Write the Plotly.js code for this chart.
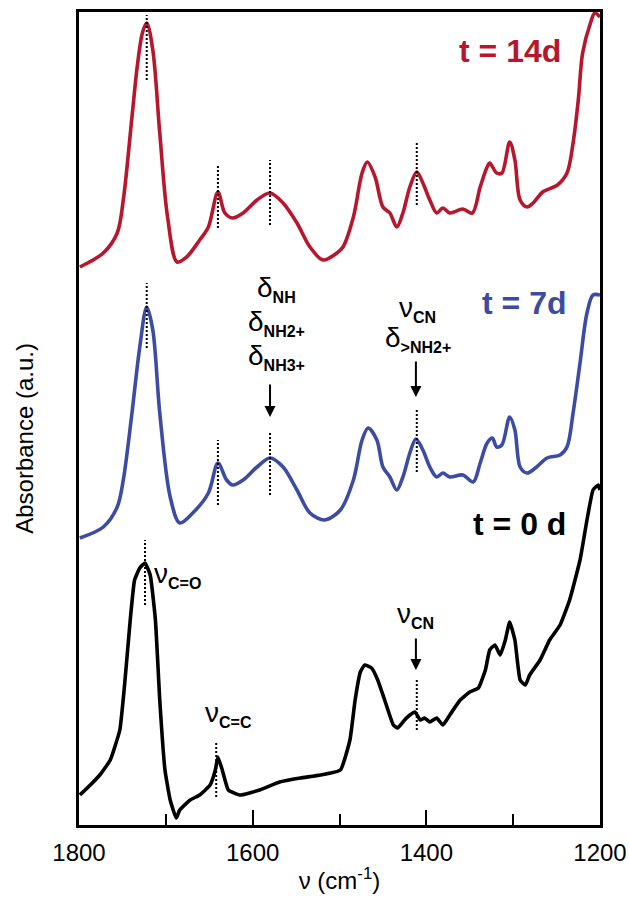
<!DOCTYPE html>
<html>
<head>
<meta charset="utf-8">
<script src="https://cdn.plot.ly/plotly-3.0.1.min.js"></script>
<style>html,body{margin:0;padding:0;background:#fff}#chart{width:629px;height:897px}</style>
</head>
<body>
<div id="chart"></div>
<script>
// wavenumber (cm-1) and absorbance (a.u., stacked offsets)
const nuRed = [1799,1772,1756,1749,1739,1733,1727,1722,1715,1707,1698,1687,1676,1661,1651,1640,1632,1623,1611,1595,1580,1565,1549,1534,1519,1503,1496,1484,1474,1468,1459,1450,1442,1434,1427,1419,1411,1404,1396,1388,1381,1373,1358,1347,1338,1330,1327,1319,1313,1304,1298,1292,1284,1277,1266,1249,1238,1231,1225,1220,1211,1206,1200];
const absRed = [5.58,5.72,5.92,6.25,7.08,7.58,7.92,8.02,7.75,6.92,6.08,5.63,5.68,5.85,5.98,6.33,6.12,6.07,6.12,6.25,6.32,6.22,6.02,5.78,5.65,5.72,5.78,6.08,6.52,6.63,6.48,6.18,6.12,5.98,6.12,6.38,6.53,6.42,6.25,6.12,6.17,6.12,6.16,6.12,6.38,6.58,6.62,6.52,6.52,6.83,6.65,6.25,6.18,6.22,6.33,6.40,6.52,6.82,7.25,7.72,8.02,8.12,8.08];

const nuBlue = [1799,1772,1756,1749,1739,1730,1722,1715,1707,1695,1684,1669,1651,1640,1630,1623,1611,1595,1580,1565,1549,1534,1517,1499,1484,1474,1467,1457,1450,1442,1434,1427,1419,1412,1404,1396,1388,1381,1373,1358,1346,1338,1330,1324,1319,1313,1304,1298,1292,1284,1273,1261,1246,1238,1231,1223,1215,1208,1200];
const absBlue = [2.87,2.98,3.18,3.45,4.12,4.78,5.18,4.95,4.12,3.28,3.02,3.12,3.32,3.62,3.45,3.40,3.45,3.58,3.67,3.58,3.35,3.12,3.05,3.15,3.45,3.85,3.97,3.85,3.58,3.48,3.35,3.48,3.72,3.86,3.75,3.58,3.48,3.52,3.48,3.50,3.43,3.62,3.82,3.87,3.78,3.80,4.08,3.95,3.58,3.52,3.58,3.67,3.70,3.78,4.12,4.62,5.12,5.30,5.30];

const nuBlack = [1799,1787,1776,1764,1753,1747,1741,1736,1730,1724,1718,1712,1707,1701,1695,1688,1684,1672,1661,1649,1643,1640,1635,1628,1615,1592,1569,1545,1522,1499,1488,1482,1476,1471,1463,1456,1448,1438,1433,1425,1419,1413,1407,1402,1396,1388,1381,1373,1361,1350,1340,1332,1327,1321,1315,1309,1304,1298,1292,1286,1281,1269,1258,1246,1235,1223,1215,1208,1202,1200];
const absBlack = [0.30,0.40,0.50,0.65,0.95,1.45,2.05,2.45,2.57,2.62,2.50,2.05,1.25,0.55,0.25,0.07,0.15,0.25,0.30,0.40,0.55,0.68,0.55,0.35,0.30,0.35,0.43,0.47,0.50,0.55,0.85,1.25,1.53,1.60,1.57,1.45,1.25,1.00,0.97,1.05,1.10,1.13,1.05,1.07,1.03,1.07,1.00,1.10,1.25,1.33,1.37,1.55,1.75,1.80,1.70,1.85,2.03,1.85,1.45,1.40,1.50,1.65,1.85,2.00,2.25,2.65,3.05,3.35,3.40,3.35];

// band markers (dotted): position, bottom, top
const markNu   = [1722,1640,1580,1411, 1722,1640,1580,1411, 1724,1642,1411];
const markLow  = [7.45,5.97,6.00,6.20, 4.77,3.20,3.30,3.53, 2.20,0.28,0.95];
const markHigh = [8.10,6.60,6.65,6.83, 5.42,3.85,3.93,4.15, 2.85,0.83,1.45];

// arrows: position, tail, head
const arrowNu   = [1580,1412,1412];
const arrowTail = [4.42,4.65,1.88];
const arrowHead = [4.08,4.28,1.55];

const tickVals = [1800,1600,1400,1200];
const tickText = ['1800','1600','1400','1200'];
const minorVals = [1700,1500,1300];

const seriesNames = ['t = 14d','t = 7d','t = 0 d'];
const RED = '#b8162c', BLUE = '#3c4ba3', BLACK = '#000000';
const FONT = 'Liberation Sans, Arial, sans-serif';

const traces = [
  {x: nuRed, y: absRed, name: seriesNames[0], mode:'lines', line:{color:RED, width:3.6, shape:'spline', smoothing:0.9}},
  {x: nuBlue, y: absBlue, name: seriesNames[1], mode:'lines', line:{color:BLUE, width:3.6, shape:'spline', smoothing:0.9}},
  {x: nuBlack, y: absBlack, name: seriesNames[2], mode:'lines', line:{color:BLACK, width:3.6, shape:'spline', smoothing:0.4}}
];

const shapes = markNu.map((v,i)=>({type:'line', xref:'x', yref:'y', x0:v, x1:v, y0:markLow[i], y1:markHigh[i],
  line:{color:'#000', width:2, dash:'2px,2px'}}));

function sub(main, s){ return main + '<sub><span style="font-size:16px;font-weight:bold">' + s + '</span></sub>'; }

const annotations = [];
arrowNu.forEach((v,i)=>annotations.push({x:v, y:arrowHead[i], ax:v, ay:arrowTail[i], xref:'x', yref:'y', axref:'x', ayref:'y',
  showarrow:true, arrowhead:2, arrowsize:1.1, arrowwidth:2, arrowcolor:'#000', text:''}));

const txt = (text, x, y, opts={}) => annotations.push(Object.assign({x, y, xref:'x', yref:'y', text, showarrow:false,
  font:{family:FONT, size:28, color:'#000'}, xanchor:'center', yanchor:'middle'}, opts));

txt(seriesNames[0], 1243, 7.74, {xanchor:'right', font:{family:FONT, size:32, color:RED, weight:'bold'}});
txt(seriesNames[1], 1237, 5.22, {xanchor:'right', font:{family:FONT, size:32, color:BLUE, weight:'bold'}});
txt(seriesNames[2], 1237, 3.01, {xanchor:'right', font:{family:FONT, size:32, color:BLACK, weight:'bold'}});

txt(sub('δ','NH'), 1572, 5.36);
txt(sub('δ','NH2+'), 1572, 5.02);
txt(sub('δ','NH3+'), 1572, 4.68);
txt(sub('ν','CN'), 1410, 5.16);
txt(sub('δ','&gt;NH2+'), 1410, 4.86);
txt(sub('ν','C=O'), 1716, 2.50, {xanchor:'left'});
txt(sub('ν','C=C'), 1628, 1.11);
txt(sub('ν','CN'), 1412, 2.10);

// y-axis title placed as annotation
annotations.push({xref:'paper', yref:'paper', x:-0.106, y:0.476, text:'Absorbance (a.u.)', textangle:-90, showarrow:false,
  font:{family:FONT, size:24, color:'#000'}, xanchor:'center', yanchor:'middle'});

const layout = {
  width:629, height:897,
  margin:{l:79, r:29, t:12, b:72},
  paper_bgcolor:'#fff', plot_bgcolor:'#fff',
  showlegend:false,
  font:{family:FONT, color:'#000'},
  xaxis:{range:[1800,1200], tickvals:tickVals, ticktext:tickText, ticks:'inside', ticklen:15, tickwidth:2, tickcolor:'#000',
    minor:{tickvals:minorVals, ticks:'inside', ticklen:11, tickwidth:2, tickcolor:'#000'},
    showline:true, linewidth:3, linecolor:'#000', mirror:true, showgrid:false, zeroline:false,
    tickfont:{family:FONT, size:24, color:'#000'}, ticklabelstandoff:4,
    title:{text:'ν (cm<sup>-1</sup>)', font:{family:FONT, size:24, color:'#000'}, standoff:8}},
  yaxis:{range:[0,8.13], showticklabels:false, ticks:'', showline:true, linewidth:3, linecolor:'#000', mirror:true,
    showgrid:false, zeroline:false},
  shapes, annotations
};

Plotly.newPlot('chart', traces, layout, {displayModeBar:false, staticPlot:true});
</script>
</body>
</html>
